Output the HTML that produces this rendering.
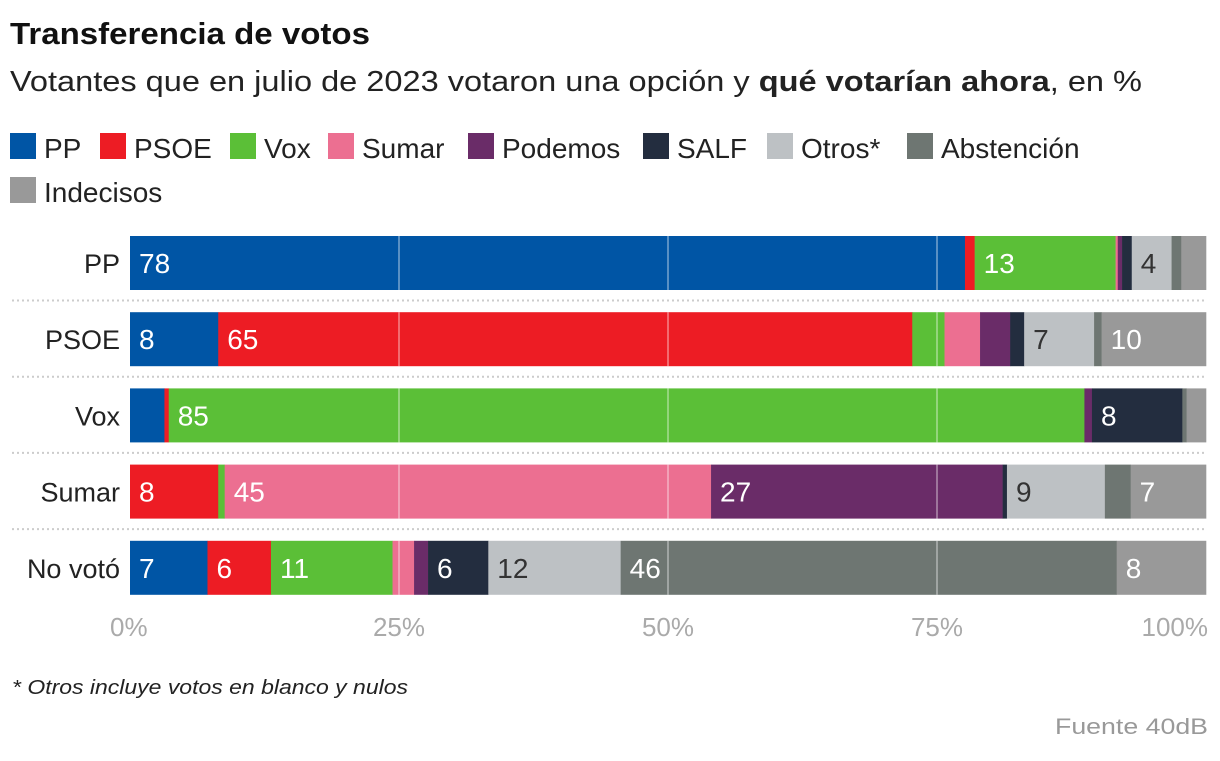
<!DOCTYPE html>
<html><head><meta charset="utf-8">
<style>
body{margin:0;background:#fff;width:1220px;height:756px;overflow:hidden;font-family:"Liberation Sans",sans-serif;color:#222}
svg text{font-family:"Liberation Sans",sans-serif}
</style></head>
<body>
<svg id="chart" width="1220" height="756" xmlns="http://www.w3.org/2000/svg">
<text x="10" y="44" font-size="31" font-weight="bold" fill="#111" textLength="360" lengthAdjust="spacingAndGlyphs">Transferencia de votos</text>
<text x="10" y="91" font-size="29" fill="#222" textLength="1132" lengthAdjust="spacingAndGlyphs">Votantes que en julio de 2023 votaron una opción y <tspan font-weight="bold">qué votarían ahora</tspan>, en %</text>
<g id="legend"></g>
<g id="grid"></g>
<g id="bars"></g>
<g id="xaxis"></g>
<text x="12" y="694" font-size="20" font-style="italic" fill="#222" textLength="396" lengthAdjust="spacingAndGlyphs">* Otros incluye votos en blanco y nulos</text>
<text x="1055" y="734" font-size="22" fill="#999" textLength="153" lengthAdjust="spacingAndGlyphs">Fuente 40dB</text>
</svg>
<script>
const categories = ["PP","PSOE","Vox","Sumar","No votó"];
const seriesNames = ["PP","PSOE","Vox","Sumar","Podemos","SALF","Otros*","Abstención","Indecisos"];
const seriesColors = ["#0055a5","#ed1c24","#5bbf37","#ec6f91","#6a2c68","#232d3f","#bdc1c4","#6e7672","#999999"];
const valPP = [77.6,0.9,13.1,0.2,0.4,0.9,3.7,0.9,2.3];
const valPSOE = [8.2,64.5,3.0,3.3,2.8,1.3,6.5,0.7,9.7];
const valVox = [3.2,0.4,85.1,0,0.7,8.4,0,0.4,1.8];
const valSumar = [0,8.2,0.6,45.2,27.1,0.4,9.1,2.4,7.0];
const valNoVoto = [7.2,5.9,11.3,2.0,1.3,5.6,12.3,46.1,8.3];
const rows = [valPP,valPSOE,valVox,valSumar,valNoVoto];
const ticks = [0,25,50,75,100];
const tickLabels = ["0%","25%","50%","75%","100%"];

const NS="http://www.w3.org/2000/svg";
const X0=130,W=1076;
const xs=v=>X0+v/100*W;
const yRow=i=>236+i*76.2;
const BH=54;
function mk(tag,attrs,parent,txt){const e=document.createElementNS(NS,tag);for(const k in attrs)e.setAttribute(k,attrs[k]);if(txt!==undefined)e.textContent=txt;parent.appendChild(e);return e;}

// legend
const lg=document.getElementById('legend');
const legPos=[[12,158],[102,158],[232,158],[330,158],[470,158],[645,158],[769,158],[909,158],[12,202]];
seriesNames.forEach((n,i)=>{
  const g=mk('g',{},lg);
  
  
  const [lx,ly]=legPos[i];
  mk('rect',{x:lx-2,y:ly-25,width:26,height:26,fill:seriesColors[i]},g);
  mk('text',{x:lx+32,y:ly,'font-size':28,fill:'#222'},g,n);
});

// separators
const gr=document.getElementById('grid');
for(let i=0;i<categories.length-1;i++){
  const y=yRow(i)+BH+10.5;
  const l=mk('line',{x1:12,x2:1206,y1:y,y2:y,stroke:'#ccc','stroke-width':2,'stroke-dasharray':'2,3'},gr);
  
  
}

// bars
const bg=document.getElementById('bars');
rows.forEach((vals,r)=>{
  const y=yRow(r);
  const lab=mk('text',{x:120,y:y+BH/2+10,'font-size':27,'text-anchor':'end',fill:'#222'},bg,categories[r]);
  
  
  let acc=0;
  vals.forEach((v,s)=>{
    if(v<=0)return;
    const rc=mk('rect',{x:xs(acc),y:y,width:xs(acc+v)-xs(acc)+0.3,height:BH,fill:seriesColors[s]},bg);
    
    
    if(v>=3.5){
      const t=mk('text',{x:xs(acc)+9,y:y+BH/2+10,'font-size':28,fill:s===6?'#333':'#fff'},bg,String(Math.round(v)));
      
      
    }
    acc+=v;
  });
  [25,50,75].forEach(tk=>{
    mk('line',{x1:xs(tk),x2:xs(tk),y1:y,y2:y+BH,stroke:'rgba(255,255,255,0.35)','stroke-width':2},bg);
  });
});

// x axis
const xa=document.getElementById('xaxis');
ticks.forEach((t,i)=>{
  const anchor=i===0?'start':(i===ticks.length-1?'end':'middle');
  const tx=i===0?xs(t)-20:(i===ticks.length-1?xs(t)+2:xs(t));
  const e=mk('text',{x:tx,y:636,'font-size':26,fill:'#aaa','text-anchor':anchor},xa,tickLabels[i]);
  
  
});
</script>
</body></html>
